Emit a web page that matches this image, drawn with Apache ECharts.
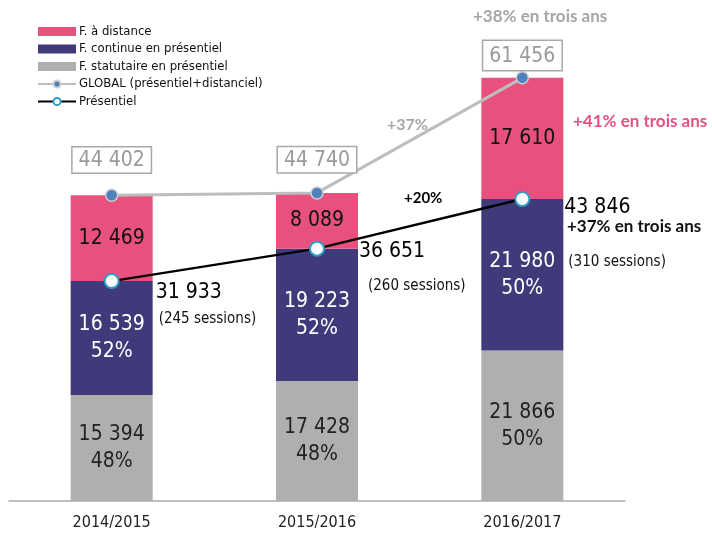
<!DOCTYPE html>
<html>
<head>
<meta charset="utf-8">
<script src="https://cdn.jsdelivr.net/npm/echarts@6/dist/echarts.min.js"></script>
<style>
  html, body { margin: 0; padding: 0; background: #fff; }
  #chart { width: 712px; height: 533px; }
</style>
</head>
<body>
<div id="chart"></div>
<script>
const years = ['2014/2015', '2015/2016', '2016/2017'];
const distance = [12469, 8089, 17610];
const continuePres = [16539, 19223, 21980];
const statutaire = [15394, 17428, 21866];
const continuePct = ['52%', '52%', '50%'];
const statutairePct = ['48%', '48%', '50%'];
const globalTotal = [44402, 44740, 61456];
const presentiel = [31933, 36651, 43846];
const sessions = ['(245 sessions)', '(260 sessions)', '(310 sessions)'];

const narrow = "'Liberation Sans Narrow', 'DejaVu Sans Condensed', 'Roboto', sans-serif";
const humanist = "Lato, 'Open Sans', sans-serif";

const fmt = v => String(v).replace(/\B(?=(\d{3})+(?!\d))/g, ' ');

// label placement for the présentiel numbers
const presLayout = [
  { offset: [31, 25], a: 26, b: 28, pad: 3 },
  { offset: [29, 24], a: 26, b: 42, pad: 9 },
  { offset: [29, 50], a: 26, b: 84, pad: 4 }
];
const globalDist = [16, 14, 1];
const globalPad = [[3, 6, 1, 6], [3, 6, 1, 6], [5, 6, 3, 6]];

const chart = echarts.init(document.getElementById('chart'));

const barLabel = {
  show: true,
  position: 'inside',
  fontFamily: narrow,
  fontSize: 21,
  lineHeight: 27
};

chart.setOption({
  animation: false,
  grid: { left: 9, right: 87, top: 19, bottom: 32 },
  legend: {
    orient: 'vertical',
    left: 37,
    top: 25,
    padding: 0,
    itemWidth: 38,
    itemHeight: 9,
    itemGap: 4.5,
    textStyle: { fontFamily: narrow, fontSize: 13, color: '#111', padding: [0, 0, 0, -2] },
    data: [
      { name: 'F. à distance', icon: 'rect' },
      { name: 'F. continue en présentiel', icon: 'rect' },
      { name: 'F. statutaire en présentiel', icon: 'rect' },
      { name: 'GLOBAL (présentiel+distanciel)' },
      { name: 'Présentiel' }
    ]
  },
  xAxis: {
    type: 'category',
    data: years,
    axisLine: { lineStyle: { color: '#ababab', width: 1.5 } },
    axisTick: { length: 6, lineStyle: { color: '#ababab', width: 1.5 } },
    axisLabel: { fontFamily: narrow, fontSize: 16, color: '#222', margin: 14 }
  },
  yAxis: { type: 'value', min: 0, max: 70000, show: false },
  series: [
    {
      name: 'F. statutaire en présentiel',
      type: 'bar',
      stack: 'a',
      barWidth: 82,
      data: statutaire,
      itemStyle: { color: '#afafaf' },
      label: Object.assign({}, barLabel, {
        color: '#222',
        formatter: p => fmt(p.value) + '\n' + statutairePct[p.dataIndex]
      })
    },
    {
      name: 'F. continue en présentiel',
      type: 'bar',
      stack: 'a',
      data: continuePres,
      itemStyle: { color: '#403a7a' },
      label: Object.assign({}, barLabel, {
        color: '#fff',
        formatter: p => fmt(p.value) + '\n' + continuePct[p.dataIndex]
      })
    },
    {
      name: 'F. à distance',
      type: 'bar',
      stack: 'a',
      data: distance,
      itemStyle: { color: '#e8507e' },
      label: Object.assign({}, barLabel, {
        color: '#111',
        formatter: p => fmt(p.value)
      })
    },
    {
      name: 'GLOBAL (présentiel+distanciel)',
      type: 'line',
      z: 5,
      data: globalTotal.map((v, i) => ({
        value: v,
        label: { distance: globalDist[i], padding: globalPad[i] }
      })),
      symbol: 'circle',
      symbolSize: 12,
      lineStyle: { color: '#bdbdbd', width: 3 },
      itemStyle: { color: '#4f81bd', borderColor: '#d0d0d0', borderWidth: 1.5 },
      label: {
        show: true,
        position: 'top',
        formatter: p => fmt(p.value),
        fontFamily: narrow,
        fontSize: 21,
        color: '#9a9a9a',
        borderColor: '#a8a8a8',
        borderWidth: 1.5,
        backgroundColor: '#fff'
      }
    },
    {
      name: 'Présentiel',
      type: 'line',
      z: 6,
      data: presentiel.map((v, i) => ({
        value: v,
        label: {
          offset: presLayout[i].offset,
          rich: {
            a: { fontFamily: narrow, fontSize: 21, color: '#000', lineHeight: presLayout[i].a },
            b: { fontFamily: narrow, fontSize: 15, color: '#111', lineHeight: presLayout[i].b, padding: [0, 0, 0, presLayout[i].pad] }
          }
        }
      })),
      symbol: 'circle',
      symbolSize: 14,
      lineStyle: { color: '#000', width: 2.5 },
      itemStyle: { color: '#fff', borderColor: '#2f9fc4', borderWidth: 2 },
      label: {
        show: true,
        position: 'right',
        distance: 5,
        align: 'left',
        formatter: p => '{a|' + fmt(p.value) + '}\n{b|' + sessions[p.dataIndex] + '}'
      }
    }
  ],
  graphic: [
    { type: 'text', left: 473, top: 8, style: { text: '+38% en trois ans', fontFamily: humanist, fontWeight: 'bold', fontSize: 17, fill: '#a6a6a6' } },
    { type: 'text', left: 387, top: 117, style: { text: '+37%', fontFamily: humanist, fontWeight: 'bold', fontSize: 16, fill: '#a6a6a6' } },
    { type: 'text', left: 573, top: 113, style: { text: '+41% en trois ans', fontFamily: humanist, fontWeight: 'bold', fontSize: 17, fill: '#e8507e' } },
    { type: 'text', left: 404, top: 191, style: { text: '+20%', fontFamily: humanist, fontWeight: 'bold', fontSize: 15, fill: '#000' } },
    { type: 'text', left: 567, top: 218, style: { text: '+37% en trois ans', fontFamily: humanist, fontWeight: 'bold', fontSize: 17, fill: '#111' } }
  ]
});
</script>
</body>
</html>
